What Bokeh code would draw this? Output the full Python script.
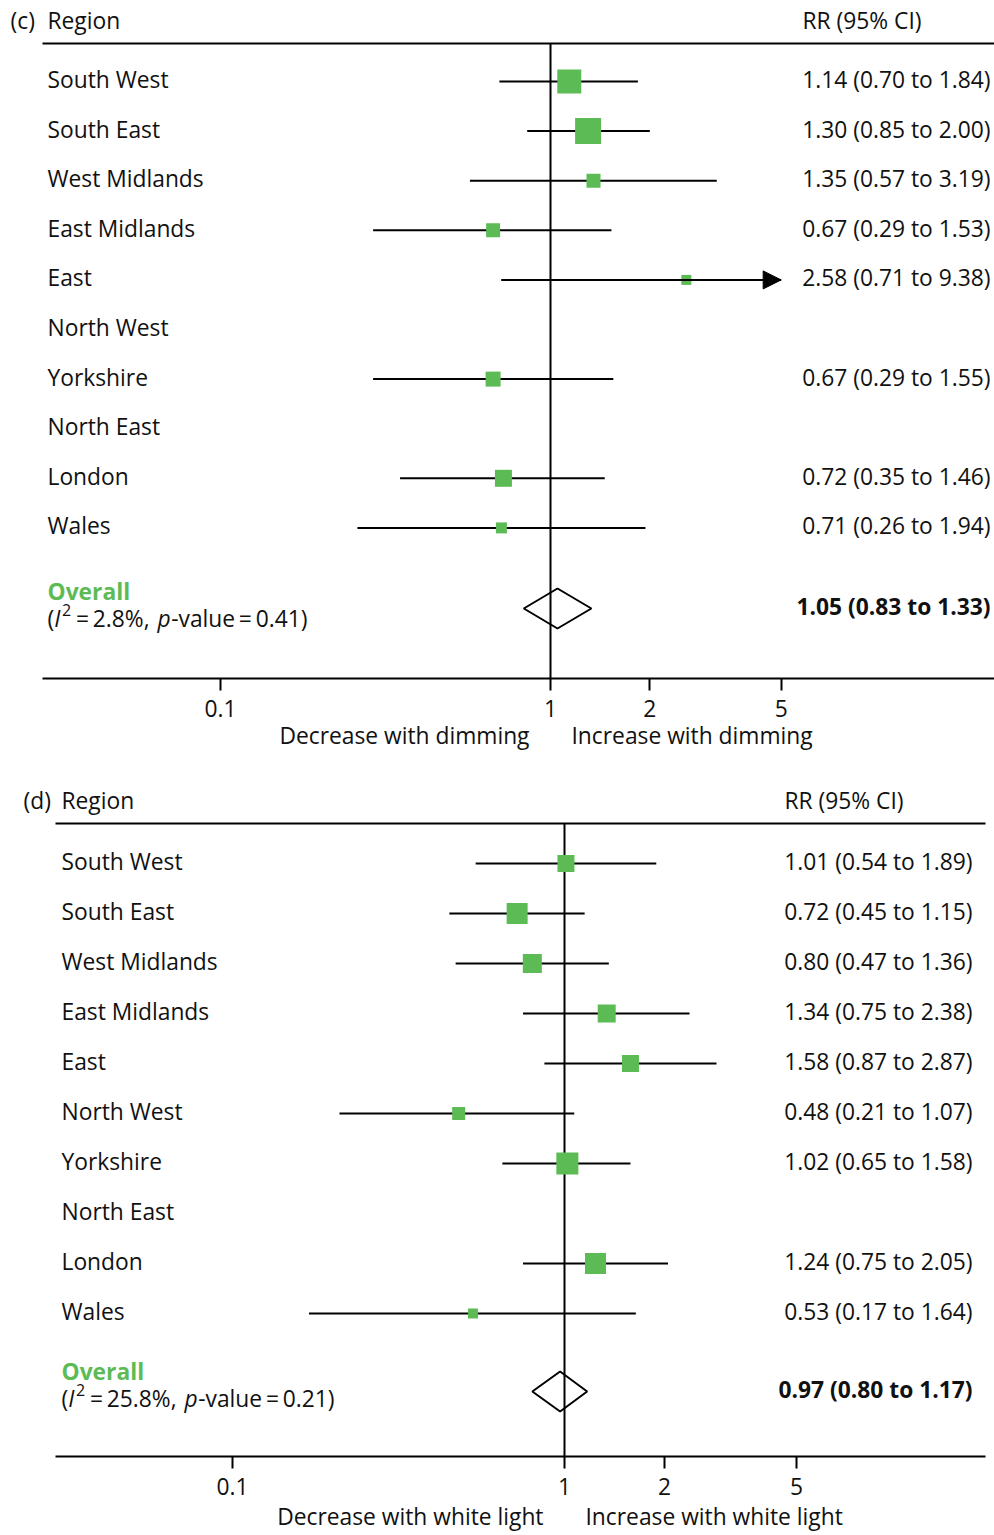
from bokeh.plotting import figure
from bokeh.models import Range1d, FixedTicker, CustomJSTickFormatter, Arrow, NormalHead
from bokeh.layouts import column
from bokeh.embed import file_html
from bokeh.resources import INLINE
from bokeh.core.properties import value

# ---------------- data ----------------
regions = ["South West", "South East", "West Midlands", "East Midlands", "East",
           "North West", "Yorkshire", "North East", "London", "Wales"]

# (c) dimming
rr_c = [1.14, 1.30, 1.35, 0.67, 2.58, None, 0.67, None, 0.72, 0.71]
lo_c = [0.70, 0.85, 0.57, 0.29, 0.71, None, 0.29, None, 0.35, 0.26]
hi_c = [1.84, 2.00, 3.19, 1.53, 9.38, None, 1.55, None, 1.46, 1.94]
weight_c = [24, 26, 14, 14, 10, None, 15, None, 17, 11]
overall_c = [1.05, 0.83, 1.33]
i2_c = "2.8%"
pval_c = "0.41"

# (d) white light
rr_d = [1.01, 0.72, 0.80, 1.34, 1.58, 0.48, 1.02, None, 1.24, 0.53]
lo_d = [0.54, 0.45, 0.47, 0.75, 0.87, 0.21, 0.65, None, 0.75, 0.17]
hi_d = [1.89, 1.15, 1.36, 2.38, 2.87, 1.07, 1.58, None, 2.05, 1.64]
weight_d = [17, 21, 19, 18, 17, 13, 22, None, 21, 10]
overall_d = [0.97, 0.80, 1.17]
i2_d = "25.8%"
pval_d = "0.21"

tick_values = [0.1, 1, 2, 5]
tick_labels = ["0.1", "1", "2", "5"]
x_cap = 5

# ---------------- style ----------------
FONT = "Open Sans"
FS = 22.8
TDY = -2          # visual centring correction for text
GREEN = "#5cbb55"
INK = "#111111"
W = 994

geo_c = dict(H=770, one=550, dec=330, line_l=42, line_r=994, tag_x=10, name_x=47, head_rr_x=802,
             val_r=990, head_y=22, head_line=43, row0=81, dy=49.6, ov_y=608, ov_lab=593, het_y=620,
             dia_h=20, axis_y=678, dir_y=737, dir_gap=21)
geo_d = dict(H=765, one=564, dec=332, line_l=55, line_r=985, tag_x=23, name_x=61, head_rr_x=784,
             val_r=972, head_y=32, head_line=53, row0=93, dy=50, ov_y=621, ov_lab=603, het_y=630,
             dia_h=20, axis_y=686, dir_y=748, dir_gap=21)

WTAB = {"(": .296, ")": .296, "=": .571, "%": .846, ",": .258, ".": .266, " ": .26, "-": .322,
        "v": .5, "a": .556, "l": .258, "u": .612, "e": .561, "\u2009": .2}


def tw(s, fs):
    return sum(WTAB.get(ch, .571 if ch.isdigit() else .55) for ch in s) * fs


def fmt(r, l, h):
    return f"{r:.2f} ({l:.2f} to {h:.2f})"


def panel(tag, rr, lo, hi, wt, overall, i2, pval, dir_lo, dir_hi, g):
    def xpx(px):
        return 10 ** ((px - g["one"]) / g["dec"])

    p = figure(width=W, height=g["H"], x_axis_type="log", y_axis_type=None, title=None,
               x_range=Range1d(xpx(0), xpx(W)), y_range=Range1d(g["H"], 0),
               output_backend="svg", toolbar_location=None, min_border=0,
               outline_line_color=None, background_fill_color="white", border_fill_color="white")
    p.grid.visible = False

    txt = dict(text_font=value(FONT), text_font_size=f"{FS}px", text_baseline="middle",
               text_color=INK, y_offset=TDY)
    rows_y = [g["row0"] + i * g["dy"] for i in range(len(regions))]

    # header
    p.text(x=[xpx(g["tag_x"]), xpx(g["name_x"]), xpx(g["head_rr_x"])], y=[g["head_y"]] * 3,
           text=[f"({tag})", "Region", "RR (95% CI)"], text_align="left", **txt)
    p.segment(x0=[xpx(g["line_l"])], x1=[xpx(g["line_r"])], y0=[g["head_line"]], y1=[g["head_line"]],
              line_color="black", line_width=2)
    # null line
    p.segment(x0=[1], x1=[1], y0=[g["head_line"]], y1=[g["axis_y"]], line_color="black", line_width=2)

    # region names
    p.text(x=[xpx(g["name_x"])] * len(regions), y=rows_y, text=regions, text_align="left", **txt)

    idx = [i for i, v in enumerate(rr) if v is not None]
    ys = [rows_y[i] for i in idx]
    los = [lo[i] for i in idx]
    his = [min(hi[i], x_cap) for i in idx]
    p.segment(x0=los, x1=his, y0=ys, y1=ys, line_color="black", line_width=2)
    for i in idx:
        if hi[i] > x_cap:
            p.add_layout(Arrow(end=NormalHead(size=18, fill_color="black", line_color="black", line_width=1),
                               x_start=lo[i], x_end=x_cap, y_start=rows_y[i], y_end=rows_y[i],
                               line_color="black", line_width=2))
    p.rect(x=[rr[i] for i in idx], y=ys, width=[wt[i] for i in idx], height=[wt[i] for i in idx],
           width_units="screen", height_units="screen", fill_color=GREEN, line_color=None)
    p.text(x=[xpx(g["val_r"])] * len(idx), y=ys, text=[fmt(rr[i], lo[i], hi[i]) for i in idx],
           text_align="right", **txt)

    # overall
    orr, olo, ohi = overall
    oy, h = g["ov_y"], g["dia_h"]
    p.patch(x=[olo, orr, ohi, orr], y=[oy, oy - h, oy, oy + h], fill_alpha=0, line_color="black", line_width=2)
    p.text(x=[xpx(g["val_r"])], y=[oy], text=[fmt(orr, olo, ohi)], text_align="right",
           text_font_style="bold", **txt)
    p.text(x=[xpx(g["name_x"])], y=[g["ov_lab"]], text=["Overall"], text_align="left",
           text_font=value(FONT), text_font_size=f"{FS}px", text_baseline="middle", y_offset=TDY,
           text_color=GREEN, text_font_style="bold")

    # heterogeneity: (I²=..%, p-value=..)
    eq = "\u2009=\u2009"
    pieces = [("(", "normal", FS, 0, tw("(", FS)),
              ("I", "italic", FS, 0, 0.34 * FS),
              ("2", "normal", 16, -9, tw("2", 16) + 1),
              (eq + i2 + ", ", "normal", FS, 0, tw(eq + i2 + ", ", FS)),
              ("p", "italic", FS, 0, 0.60 * FS),
              ("-value" + eq + pval + ")", "normal", FS, 0, 0)]
    off = 0.0
    for s, style, fs, dy, w in pieces:
        p.text(x=[xpx(g["name_x"])], y=[g["het_y"]], text=[s], x_offset=off, y_offset=dy + TDY,
               text_align="left", text_baseline="middle", text_font=value(FONT),
               text_font_size=f"{fs}px", text_font_style=style, text_color=INK)
        off += w

    # axis
    ax = p.xaxis[0]
    ax.ticker = FixedTicker(ticks=tick_values)
    ax.formatter = CustomJSTickFormatter(args=dict(vals=tick_values, labs=tick_labels),
                                         code="const i = vals.indexOf(tick); return i >= 0 ? labs[i] : String(tick);")
    ax.fixed_location = g["axis_y"]
    ax.bounds = (xpx(g["line_l"]), xpx(g["line_r"]))
    ax.axis_line_width = 2
    ax.axis_line_color = "black"
    ax.major_tick_line_width = 2
    ax.major_tick_line_color = "black"
    ax.major_tick_out = 12
    ax.major_tick_in = 0
    ax.minor_tick_line_color = None
    ax.major_label_text_font = FONT
    ax.major_label_text_font_size = f"{FS}px"
    ax.major_label_text_color = INK
    ax.major_label_standoff = 9

    # direction labels
    p.text(x=[1], y=[g["dir_y"]], text=[dir_lo], text_align="right", x_offset=-g["dir_gap"], **txt)
    p.text(x=[1], y=[g["dir_y"]], text=[dir_hi], text_align="left", x_offset=g["dir_gap"], **txt)
    return p


p_c = panel("c", rr_c, lo_c, hi_c, weight_c, overall_c, i2_c, pval_c,
            "Decrease with dimming", "Increase with dimming", geo_c)
p_d = panel("d", rr_d, lo_d, hi_d, weight_d, overall_d, i2_d, pval_d,
            "Decrease with white light", "Increase with white light", geo_d)

layout = column(p_c, p_d, spacing=0)
open("out.html", "w").write(file_html(layout, INLINE))
